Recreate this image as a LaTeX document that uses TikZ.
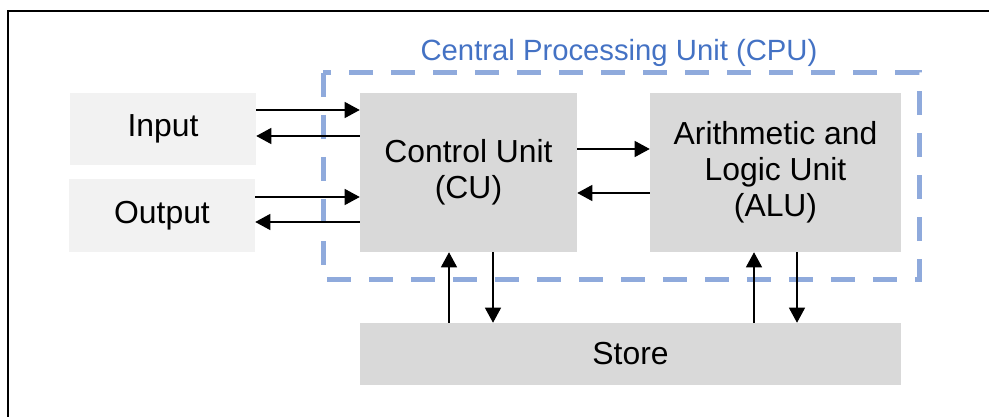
\documentclass[tikz,border=0pt]{standalone}
\usepackage{fontspec}
\setmainfont{Liberation Sans}
\usetikzlibrary{arrows.meta}
\definecolor{lightbox}{HTML}{F2F2F2}
\definecolor{midbox}{HTML}{D9D9D9}
\definecolor{cpuline}{HTML}{8FAADC}
\definecolor{cputext}{HTML}{4472C4}
\tikzset{
  unitbox/.style={fill=midbox, draw=none, inner sep=0pt, align=center,
    font=\fontsize{23.9pt}{27pt}\selectfont},
  iobox/.style={unitbox, fill=lightbox},
  arr/.style={-{Triangle[length=11.25pt,width=12pt]}, line width=0.9pt, black},
  cpubox/.style={draw=cpuline, line width=3.75pt, dash pattern=on 18pt off 13.5pt},
  frameline/.style={line width=1.5pt, black}
}
\begin{document}
\begin{tikzpicture}[x=0.75pt,y=-0.75pt]
\useasboundingbox (0,0) rectangle (989,417);

% outer frame (top and left edges)
\draw[frameline] (8,417) -- (8,11) -- (989,11);

% CPU boundary
\draw[cpubox] (323,73) rectangle (919,279);
\node[text=cputext, anchor=base, font=\fontsize{21.95pt}{26pt}\selectfont] (cputitle) at (619,61) {Central Processing Unit (CPU)};

% blocks
\node[iobox, minimum width=139.5pt, minimum height=54pt] (in) at (163,129) {\raisebox{-1.5pt}{Input}};
\node[iobox, minimum width=139.5pt, minimum height=54.75pt] (out) at (162,215.5) {\raisebox{-1.5pt}{Output}};
\node[unitbox, minimum width=162.75pt, minimum height=119.25pt] (cu) at (468.5,172.5) {Control Unit\\(CU)};
\node[unitbox, minimum width=188.25pt, minimum height=119.25pt] (alu) at (775.5,172.5) {Arithmetic and\\Logic Unit\\(ALU)};
\node[unitbox, minimum width=405.75pt, minimum height=46.5pt] (st) at (630.5,354) {Store};

% input / output links
\draw[arr] (in.east |- 0,110) -- (cu.west |- 0,110);
\draw[arr] (cu.west |- 0,136) -- (in.east |- 0,136);
\draw[arr] (out.east |- 0,197) -- (cu.west |- 0,197);
\draw[arr] (cu.west |- 0,222) -- (out.east |- 0,222);

% CU <-> ALU
\draw[arr] (cu.east |- 0,149) -- (alu.west |- 0,149);
\draw[arr] (alu.west |- 0,193) -- (cu.east |- 0,193);

% store links
\draw[arr] (st.north -| 449,0) -- (cu.south -| 449,0);
\draw[arr] (cu.south -| 493,0) -- (st.north -| 493,0);
\draw[arr] (st.north -| 754,0) -- (alu.south -| 754,0);
\draw[arr] (alu.south -| 797,0) -- (st.north -| 797,0);
\end{tikzpicture}
\end{document}
